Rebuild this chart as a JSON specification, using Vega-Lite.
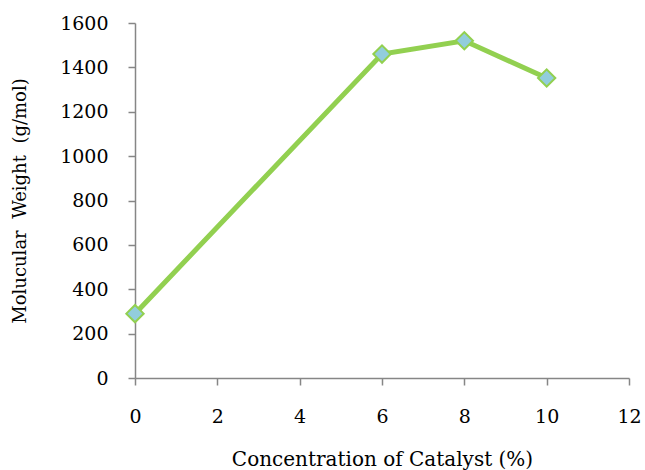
{
  "$schema": "https://vega.github.io/schema/vega-lite/v6.json",
  "width": 494,
  "height": 355,
  "autosize": "none",
  "padding": {"left": 135, "top": 23, "right": 16, "bottom": 92},
  "background": "white",
  "config": {
    "view": {"stroke": null},
    "font": "DejaVu Serif",
    "axis": {
      "grid": false,
      "domainColor": "#868686",
      "tickColor": "#868686",
      "domainWidth": 1.5,
      "tickWidth": 1.5,
      "tickSize": 7,
      "labelFont": "DejaVu Serif",
      "labelFontSize": 19,
      "labelColor": "#000000",
      "titleFont": "DejaVu Serif",
      "titleFontWeight": "normal",
      "titleColor": "#000000",
      "format": "d"
    }
  },
  "data": {
    "values": [
      {"catalyst": 0, "mw": 290},
      {"catalyst": 6, "mw": 1460},
      {"catalyst": 8, "mw": 1520},
      {"catalyst": 10, "mw": 1352}
    ]
  },
  "encoding": {
    "x": {
      "field": "catalyst",
      "type": "quantitative",
      "scale": {"domain": [0, 12], "nice": false},
      "axis": {"values": [0, 2, 4, 6, 8, 10, 12], "labelPadding": 22, "titlePadding": 23, "titleFontSize": 20, "labelFlush": false},
      "title": "Concentration of Catalyst (%)"
    },
    "y": {
      "field": "mw",
      "type": "quantitative",
      "scale": {"domain": [0, 1600], "nice": false},
      "axis": {"values": [0, 200, 400, 600, 800, 1000, 1200, 1400, 1600], "labelPadding": 20, "titlePadding": 30, "titleFontSize": 18, "labelFlush": false},
      "title": "Molucular\u00a0 Weight\u00a0 (g/mol)"
    }
  },
  "layer": [
    {"mark": {"type": "line", "color": "#92D050", "strokeWidth": 5}},
    {"mark": {"type": "point", "shape": "diamond", "size": 300, "filled": true, "fill": "#92CDDC", "stroke": "#92D050", "strokeWidth": 2, "opacity": 1}}
  ]
}
